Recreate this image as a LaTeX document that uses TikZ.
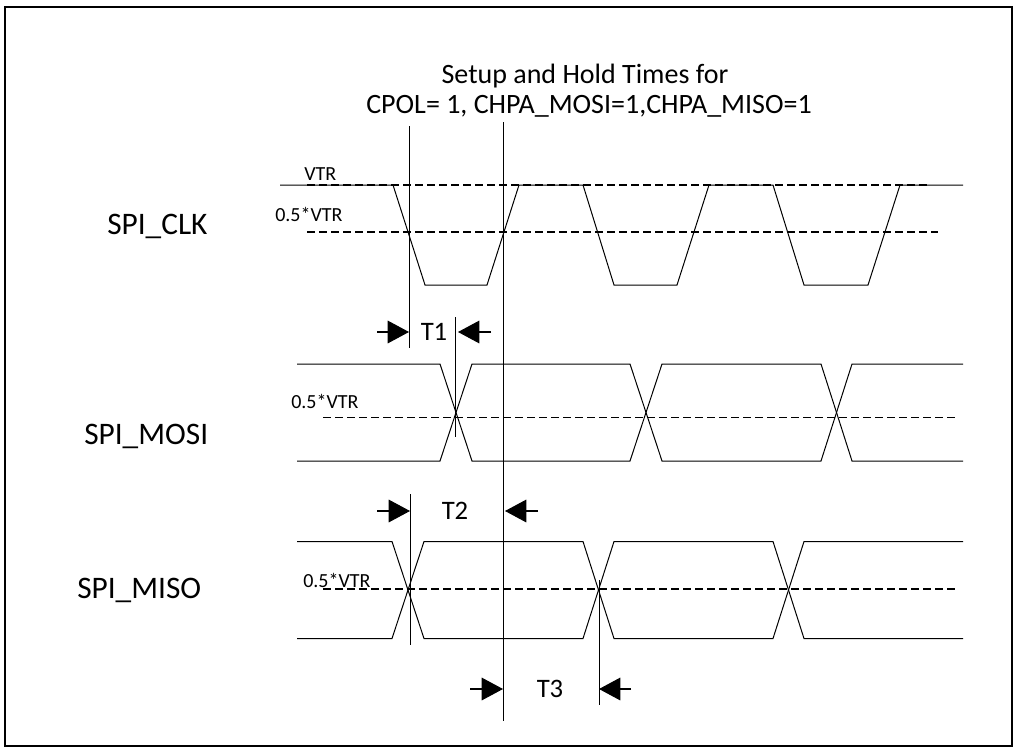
\documentclass[tikz,border=0pt]{standalone}
\usepackage{fontspec}
\setmainfont{Carlito}
\usetikzlibrary{arrows.meta}
\begin{document}
\begin{tikzpicture}[x=0.75pt,y=-0.75pt,
  sig/.style={line width=0.75pt,line join=miter},
  lvl/.style={line width=1.2pt,dash pattern=on 6pt off 3pt},
  vline/.style={line width=0.75pt},
  dimarrow/.style={line width=0.8pt,-{Triangle[length=16pt,width=17pt]}},
  big/.style={font=\fontsize{23.5pt}{26pt}\selectfont,inner sep=0pt},
  small/.style={font=\fontsize{15pt}{17pt}\selectfont,inner sep=0pt},
  tlab/.style={font=\fontsize{20pt}{23pt}\selectfont},
  ttl/.style={font=\fontsize{21pt}{24pt}\selectfont}]
\useasboundingbox (0,0) rectangle (1016,749);
\draw[line width=1.6pt] (5,7) rectangle (1012,746);
% title
\node[ttl] (t1) at (585,76) {Setup and Hold Times for};
\node[ttl] (t2) at (589,106) {CPOL= 1, CHPA\_MOSI=1,CHPA\_MISO=1};
% signal names
\node[big,anchor=west] (clk) at (107,226) {SPI\_CLK};
\node[big,anchor=west] (mosi) at (84,436) {SPI\_MOSI};
\node[big,anchor=west] (miso) at (77,590) {SPI\_MISO};
% level labels
\node[small,anchor=west] (lv1) at (304,174) {VTR};
\node[small,anchor=west] (lv2) at (275,214) {0.5*VTR};
\node[small,anchor=west] (lv3) at (291,401) {0.5*VTR};
\node[small,anchor=west] (lv4) at (303,580) {0.5*VTR};
% CLK
\draw[sig] (280,185) -- (393,185) -- (425,285) -- (487,285) -- (519,185) -- (583,185) -- (614,285) -- (677,285) -- (709,185) -- (773,185) -- (804,285) -- (868,285) -- (900,185) -- (963,185);
\draw[lvl] (307,185) -- (928,185);
\draw[lvl] (307,232) -- (938,232);
% MOSI
\draw[sig] (297,364) -- (440,364) -- (472,461) -- (630,461) -- (662,364) -- (821,364) -- (852,461) -- (963,461);
\draw[sig] (297,461) -- (440,461) -- (472,364) -- (630,364) -- (662,461) -- (821,461) -- (852,364) -- (963,364);
\draw[lvl] (323,417.5) -- (955,417.5);
% MISO
\draw[sig] (297,541.5) -- (392,541.5) -- (424,638.5) -- (583,638.5) -- (614,541.5) -- (773,541.5) -- (804,638.5) -- (963,638.5);
\draw[sig] (297,638.5) -- (392,638.5) -- (424,541.5) -- (583,541.5) -- (614,638.5) -- (773,638.5) -- (804,541.5) -- (963,541.5);
\draw[lvl] (323,589) -- (955,589);
% marker lines
\coordinate (v1a) at (409,126); \coordinate (v1b) at (409,348);
\coordinate (v2a) at (503,122); \coordinate (v2b) at (503,721);
\coordinate (v3a) at (455,317); \coordinate (v3b) at (455,437);
\coordinate (v4a) at (410,494); \coordinate (v4b) at (410,645);
\coordinate (v5a) at (599,580); \coordinate (v5b) at (599,705);
\draw[vline] (v1a) -- (v1b);
\draw[vline] (v2a) -- (v2b);
\draw[vline] (v3a) -- (v3b);
\draw[vline] (v4a) -- (v4b);
\draw[vline] (v5a) -- (v5b);
% T1
\coordinate (a1s) at (377,332); \coordinate (a1e) at (409,332);
\coordinate (a2s) at (491,332); \coordinate (a2e) at (458,332);
\draw[dimarrow] (a1s) -- (a1e);
\draw[dimarrow] (a2s) -- (a2e);
\node[tlab] (T1) at (434,332) {T1};
% T2
\coordinate (b1s) at (377,511); \coordinate (b1e) at (410,511);
\coordinate (b2s) at (538,511); \coordinate (b2e) at (505,511);
\draw[dimarrow] (b1s) -- (b1e);
\draw[dimarrow] (b2s) -- (b2e);
\node[tlab] (T2) at (455,511) {T2};
% T3
\coordinate (c1s) at (470,689); \coordinate (c1e) at (503,689);
\coordinate (c2s) at (631,689); \coordinate (c2e) at (599,689);
\draw[dimarrow] (c1s) -- (c1e);
\draw[dimarrow] (c2s) -- (c2e);
\node[tlab] (T3) at (550,689) {T3};
\end{tikzpicture}
\end{document}
